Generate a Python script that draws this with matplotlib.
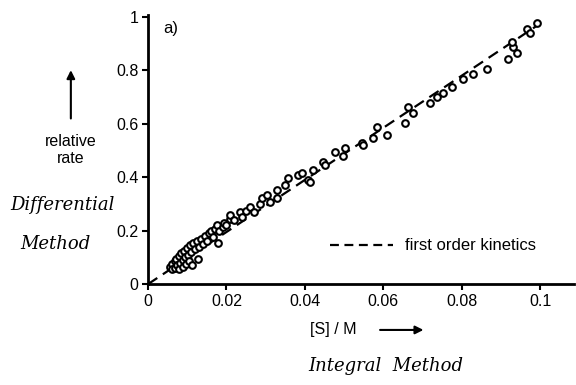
import matplotlib
matplotlib.use("Agg")
import matplotlib.pyplot as plt

plt.rcParams['font.family'] = ['Liberation Sans', 'DejaVu Sans']

# measured points (differential vs integral method)
conc = [0.0055, 0.006, 0.0062, 0.0068, 0.007, 0.0072, 0.0075, 0.0078, 0.008, 0.0082,
        0.0085, 0.0088, 0.009, 0.0092, 0.0095, 0.0098, 0.010, 0.0103, 0.0105, 0.0108,
        0.011, 0.0112, 0.0115, 0.012, 0.0125, 0.0128, 0.013, 0.0135, 0.014, 0.0145,
        0.015, 0.0155, 0.016, 0.0165, 0.017, 0.0176, 0.0179, 0.018, 0.019, 0.0195,
        0.020, 0.021, 0.021, 0.022, 0.0235, 0.024, 0.025, 0.026, 0.027, 0.0285,
        0.029, 0.0304, 0.031, 0.033, 0.0329, 0.035, 0.0357, 0.0383, 0.0393, 0.0408,
        0.0413, 0.0421, 0.0446, 0.0452, 0.0477, 0.0497, 0.0503, 0.0546, 0.0548, 0.0574,
        0.0584, 0.061, 0.0656, 0.0663, 0.0676, 0.072, 0.0737, 0.0753, 0.0775, 0.0804,
        0.083, 0.0865, 0.0918, 0.0941, 0.093, 0.0929, 0.0967, 0.0974, 0.0992]
rate = [0.065, 0.075, 0.055, 0.085, 0.060, 0.095, 0.070, 0.105, 0.058, 0.080,
        0.115, 0.090, 0.065, 0.125, 0.100, 0.075, 0.135, 0.110, 0.085, 0.145,
        0.120, 0.070, 0.155, 0.130, 0.160, 0.095, 0.140, 0.170, 0.150, 0.180,
        0.160, 0.190, 0.200, 0.175, 0.205, 0.221, 0.154, 0.200, 0.215, 0.230,
        0.220, 0.245, 0.258, 0.240, 0.270, 0.250, 0.275, 0.288, 0.270, 0.300,
        0.322, 0.333, 0.307, 0.322, 0.352, 0.371, 0.397, 0.408, 0.416, 0.390,
        0.382, 0.427, 0.457, 0.447, 0.494, 0.480, 0.509, 0.528, 0.520, 0.545,
        0.588, 0.558, 0.602, 0.663, 0.640, 0.678, 0.700, 0.715, 0.738, 0.768,
        0.787, 0.805, 0.842, 0.865, 0.888, 0.906, 0.955, 0.940, 0.977]

# first order kinetics line
fit_x = [0.0, 0.1]
fit_y = [0.0, 0.975]

xticks = [0, 0.02, 0.04, 0.06, 0.08, 0.1]
xlabels = ['0', '0.02', '0.04', '0.06', '0.08', '0.1']
yticks = [0, 0.2, 0.4, 0.6, 0.8, 1]
ylabels = ['0', '0.2', '0.4', '0.6', '0.8', '1']

fig = plt.figure(figsize=(5.76, 3.85), dpi=100)
ax = fig.add_axes([0.257, 0.262, 0.74, 0.699])

ax.plot(fit_x, fit_y, color='black', lw=1.6, ls=(0, (5, 3)))
ax.plot(conc, rate, ls='none', marker='o', ms=4.8, mfc='white', mec='black', mew=1.5)

ax.set_xlim(0, 0.1087)
ax.set_ylim(0, 1.007)
ax.set_xticks(xticks)
ax.set_xticklabels(xlabels, fontsize=11.5)
ax.set_yticks(yticks)
ax.set_yticklabels(ylabels, fontsize=11.5)
ax.tick_params(direction='out', length=4, width=1.5, pad=3)
for s in ['top', 'right']:
    ax.spines[s].set_visible(False)
for s in ['left', 'bottom']:
    ax.spines[s].set_linewidth(2)

ax.text(0.004, 0.985, 'a)', fontsize=12, va='top')

# legend drawn by hand
ax.plot([0.0465, 0.0625], [0.146, 0.146], color='black', lw=1.6, ls=(0, (4, 2.5)))
ax.text(0.0655, 0.146, 'first order kinetics', fontsize=12, va='center')

# outer labels
fig.text(0.122, 0.61, 'relative\nrate', fontsize=11.5, ha='center', va='center', linespacing=1.2)
fig.add_artist(matplotlib.patches.FancyArrowPatch((0.123, 0.685), (0.123, 0.825),
               transform=fig.transFigure, arrowstyle='-|>', mutation_scale=12,
               color='black', lw=1.5))
fig.text(0.018, 0.468, 'Differential', fontsize=13, ha='left', va='center', style='italic',
         family='DejaVu Serif')
fig.text(0.035, 0.365, 'Method', fontsize=13, ha='left', va='center', style='italic',
         family='DejaVu Serif')

fig.text(0.538, 0.143, '[S] / M', fontsize=11.5, ha='left', va='center')
fig.add_artist(matplotlib.patches.FancyArrowPatch((0.655, 0.143), (0.74, 0.143),
               transform=fig.transFigure, arrowstyle='-|>', mutation_scale=12,
               color='black', lw=1.5))
fig.text(0.535, 0.05, 'Integral  Method', fontsize=13, ha='left', va='center', style='italic',
         family='DejaVu Serif')

fig.savefig('out.png', dpi=100)
